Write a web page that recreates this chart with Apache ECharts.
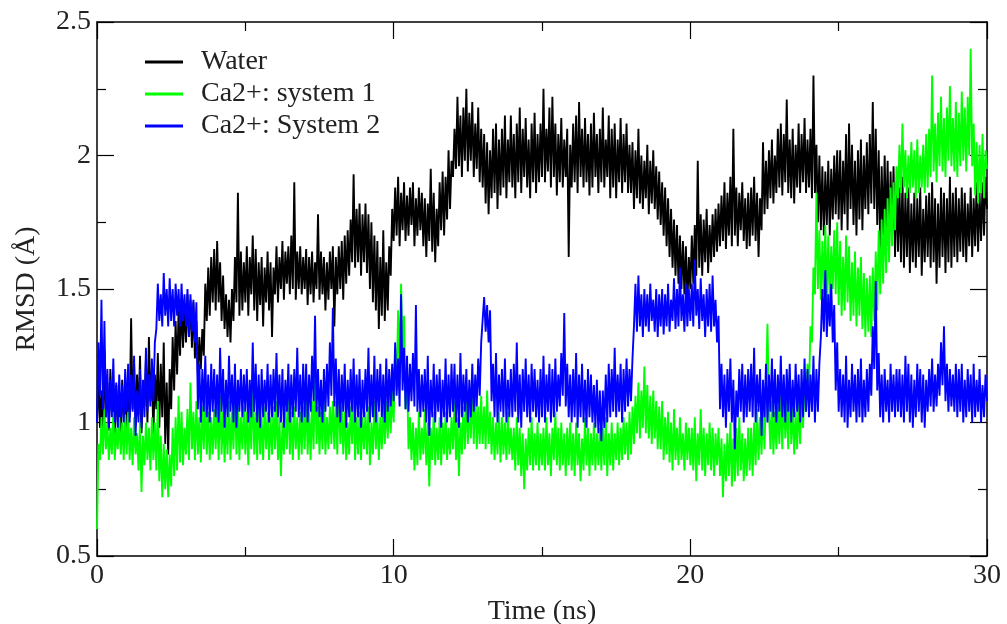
<!DOCTYPE html>
<html>
<head>
<meta charset="utf-8">
<script src="https://cdn.jsdelivr.net/npm/echarts@6/dist/echarts.min.js"></script>
<style>
  html, body { margin: 0; padding: 0; background: #fff; }
  #main { width: 1007px; height: 624px; }
</style>
</head>
<body>
<div id="main"></div>
<script>
// sample spacing in ns
var step = 0.05;

// RMSD values, one row per ns
var water = [
  1.00, 1.18, 0.98, 1.12, 0.96, 1.27, 1.02, 1.15, 0.97, 1.20, 1.04, 1.10, 0.95, 1.14, 1.00, 1.08, 0.94, 1.16, 1.02, 1.12,
  0.97, 1.15, 1.02, 1.39, 1.05, 1.22, 0.99, 1.18, 1.03, 1.25, 0.96, 1.12, 1.06, 1.24, 1.00, 1.32, 1.08, 1.20, 0.95, 1.18,
  1.05, 1.26, 0.98, 1.22, 1.02, 1.30, 0.92, 1.15, 0.88, 1.20, 1.05, 1.32, 1.12, 1.38, 1.18, 1.42, 1.25, 1.45, 1.28, 1.44,
  1.30, 1.48, 1.32, 1.46, 1.28, 1.45, 1.24, 1.38, 1.18, 1.32, 1.20, 1.35, 1.25, 1.52, 1.38, 1.58, 1.40, 1.62, 1.45, 1.65,
  1.42, 1.68, 1.45, 1.60, 1.38, 1.55, 1.35, 1.48, 1.32, 1.46, 1.30, 1.50, 1.38, 1.62, 1.45, 1.86, 1.40, 1.64, 1.42, 1.60,
  1.45, 1.66, 1.40, 1.62, 1.48, 1.70, 1.42, 1.65, 1.38, 1.60, 1.44, 1.62, 1.36, 1.58, 1.45, 1.64, 1.42, 1.60, 1.32, 1.58,
  1.48, 1.66, 1.45, 1.62, 1.50, 1.68, 1.46, 1.64, 1.52, 1.66, 1.48, 1.70, 1.50, 1.90, 1.46, 1.64, 1.50, 1.66, 1.48, 1.62,
  1.50, 1.65, 1.44, 1.62, 1.48, 1.64, 1.45, 1.60, 1.50, 1.78, 1.46, 1.64, 1.48, 1.62, 1.42, 1.60, 1.46, 1.64, 1.50, 1.66,
  1.36, 1.62, 1.48, 1.66, 1.50, 1.68, 1.46, 1.70, 1.52, 1.72, 1.55, 1.76, 1.60, 1.93, 1.58, 1.80, 1.60, 1.82, 1.55, 1.78,
  1.60, 1.82, 1.56, 1.78, 1.50, 1.75, 1.45, 1.70, 1.42, 1.68, 1.35, 1.62, 1.40, 1.72, 1.38, 1.60, 1.42, 1.66, 1.55, 1.80,
  1.68, 1.88, 1.70, 1.92, 1.66, 1.86, 1.72, 1.90, 1.68, 1.85, 1.70, 1.88, 1.74, 1.90, 1.66, 1.84, 1.70, 1.88, 1.72, 1.86,
  1.66, 1.84, 1.62, 1.82, 1.68, 1.95, 1.64, 1.86, 1.60, 1.80, 1.66, 1.90, 1.72, 1.94, 1.70, 1.92, 1.76, 2.02, 1.80, 1.98,
  1.92, 2.10, 1.95, 2.22, 1.96, 2.15, 1.92, 2.18, 1.98, 2.25, 1.94, 2.16, 1.98, 2.20, 1.92, 2.12, 1.95, 2.18, 1.90, 2.10,
  1.88, 2.08, 1.82, 2.05, 1.78, 2.02, 1.84, 2.10, 1.86, 2.12, 1.80, 2.06, 1.85, 2.10, 1.88, 2.15, 1.84, 2.06, 1.90, 2.15,
  1.88, 2.08, 1.84, 2.12, 1.90, 2.18, 1.86, 2.10, 1.92, 2.14, 1.88, 2.06, 1.84, 2.12, 1.90, 2.16, 1.86, 2.08, 1.90, 2.12,
  1.92, 2.25, 1.90, 2.10, 1.94, 2.18, 1.88, 2.22, 1.92, 2.12, 1.85, 2.08, 1.90, 2.14, 1.88, 2.06, 1.92, 2.10, 1.62, 2.04,
  1.88, 2.12, 1.90, 2.15, 1.86, 2.20, 1.92, 2.10, 1.88, 2.14, 1.90, 2.08, 1.85, 2.12, 1.88, 2.16, 1.92, 2.08, 1.86, 2.10,
  1.90, 2.18, 1.88, 2.06, 1.92, 2.15, 1.84, 2.10, 1.88, 2.12, 1.84, 2.06, 1.90, 2.14, 1.86, 2.08, 1.90, 2.12, 1.86, 2.04,
  1.86, 2.05, 1.80, 2.02, 1.84, 2.10, 1.82, 2.00, 1.80, 1.98, 1.84, 2.04, 1.78, 1.98, 1.82, 2.02, 1.80, 1.96, 1.76, 1.94,
  1.74, 1.90, 1.70, 1.88, 1.66, 1.84, 1.62, 1.80, 1.58, 1.76, 1.55, 1.74, 1.52, 1.70, 1.50, 1.68, 1.48, 1.66, 1.44, 1.62,
  1.50, 1.70, 1.52, 1.74, 1.55, 1.98, 1.58, 1.78, 1.55, 1.76, 1.60, 1.80, 1.56, 1.74, 1.60, 1.78, 1.62, 1.80, 1.64, 1.82,
  1.66, 1.85, 1.68, 1.90, 1.65, 1.86, 1.70, 1.92, 1.66, 2.10, 1.70, 1.88, 1.66, 1.86, 1.72, 1.90, 1.68, 1.84, 1.65, 1.86,
  1.66, 1.88, 1.70, 1.92, 1.68, 1.86, 1.62, 1.84, 1.72, 2.05, 1.78, 1.98, 1.80, 2.02, 1.84, 2.06, 1.82, 2.00, 1.86, 2.10,
  1.88, 2.12, 1.85, 2.08, 1.90, 2.21, 1.86, 2.06, 1.84, 2.10, 1.82, 2.04, 1.88, 2.12, 1.86, 2.08, 1.90, 2.14, 1.86, 2.06,
  1.88, 2.10, 1.84, 2.30, 1.86, 2.04, 1.75, 2.00, 1.72, 1.96, 1.70, 1.94, 1.74, 1.98, 1.70, 1.95, 1.76, 2.00, 1.78, 2.02,
  1.76, 2.02, 1.72, 1.98, 1.78, 2.08, 1.72, 2.12, 1.80, 2.04, 1.74, 1.98, 1.70, 2.02, 1.76, 2.06, 1.72, 2.00, 1.80, 2.05,
  1.78, 2.08, 1.82, 2.20, 1.80, 2.10, 1.74, 2.02, 1.65, 1.96, 1.70, 2.00, 1.72, 1.98, 1.66, 1.94, 1.70, 1.96, 1.62, 1.90,
  1.64, 1.88, 1.60, 1.92, 1.58, 1.86, 1.62, 1.88, 1.56, 1.82, 1.60, 1.86, 1.58, 1.84, 1.62, 1.88, 1.55, 1.80, 1.60, 1.85,
  1.62, 1.86, 1.58, 1.90, 1.60, 1.84, 1.52, 1.82, 1.58, 1.88, 1.62, 1.86, 1.56, 1.84, 1.60, 1.92, 1.58, 1.86, 1.62, 1.88,
  1.60, 1.84, 1.64, 1.88, 1.62, 1.86, 1.60, 1.82, 1.66, 1.88, 1.62, 1.84, 1.66, 1.90, 1.64, 1.86, 1.68, 1.90, 1.70, 1.92,
  1.80
];

var system1 = [
  0.60, 0.92, 0.86, 1.02, 0.88, 1.05, 0.90, 1.00, 0.86, 0.98, 0.88, 1.04, 0.86, 0.98, 0.90, 1.02, 0.88, 1.00, 0.86, 1.03,
  0.88, 1.04, 0.86, 0.98, 0.84, 1.02, 0.88, 0.96, 0.82, 1.00, 0.74, 0.95, 0.84, 1.00, 0.86, 0.98, 0.82, 1.02, 0.86, 1.00,
  0.82, 1.08, 0.78, 0.95, 0.72, 0.92, 0.75, 0.90, 0.72, 0.88, 0.76, 0.98, 0.80, 1.02, 0.82, 1.10, 0.85, 1.04, 0.84, 0.98,
  0.88, 1.05, 0.86, 1.15, 0.90, 1.04, 0.86, 1.08, 0.88, 1.02, 0.85, 1.06, 0.90, 1.10, 0.88, 1.04, 0.86, 1.02, 0.88, 1.05,
  0.90, 1.06, 0.86, 1.10, 0.88, 1.04, 0.85, 1.02, 0.88, 1.08, 0.86, 1.04, 0.90, 1.12, 0.88, 1.06, 0.86, 1.02, 0.90, 1.06,
  0.88, 1.04, 0.84, 1.06, 0.90, 1.15, 0.88, 1.04, 0.86, 1.08, 0.88, 1.02, 0.86, 1.06, 0.90, 1.04, 0.86, 1.02, 0.88, 1.06,
  0.90, 1.08, 0.86, 1.02, 0.80, 1.00, 0.88, 1.05, 0.90, 1.12, 0.88, 1.04, 0.86, 1.06, 0.90, 1.02, 0.86, 1.04, 0.88, 1.06,
  0.90, 1.10, 0.88, 1.04, 0.86, 1.08, 0.90, 1.20, 0.92, 1.06, 0.88, 1.04, 0.90, 1.08, 0.88, 1.02, 0.90, 1.06, 0.92, 1.08,
  0.90, 1.08, 0.88, 1.14, 0.92, 1.06, 0.88, 1.04, 0.86, 1.00, 0.88, 1.06, 0.92, 1.10, 0.86, 1.02, 0.88, 1.04, 0.86, 1.02,
  0.90, 1.04, 0.88, 1.06, 0.84, 1.00, 0.88, 1.08, 0.90, 1.04, 0.86, 1.02, 0.90, 1.06, 0.92, 1.08, 0.94, 1.10, 0.96, 1.12,
  1.00, 1.28, 1.12, 1.42, 1.20, 1.52, 1.25, 1.40, 1.05, 1.20, 0.90, 1.02, 0.86, 1.00, 0.82, 0.98, 0.84, 1.04, 0.86, 0.98,
  0.88, 1.05, 0.84, 1.00, 0.76, 0.98, 0.86, 1.04, 0.84, 0.98, 0.86, 1.02, 0.84, 1.00, 0.88, 1.04, 0.86, 0.98, 0.88, 1.02,
  0.90, 1.08, 0.86, 1.02, 0.80, 1.00, 0.88, 1.06, 0.90, 1.10, 0.92, 1.08, 0.94, 1.12, 0.92, 1.14, 0.90, 1.06, 0.92, 1.10,
  0.92, 1.06, 0.90, 1.12, 0.92, 1.04, 0.88, 1.02, 0.86, 1.00, 0.88, 1.04, 0.85, 1.02, 0.88, 1.00, 0.86, 1.04, 0.88, 0.98,
  0.86, 0.98, 0.82, 1.02, 0.84, 0.98, 0.80, 0.96, 0.75, 0.94, 0.82, 0.98, 0.84, 1.02, 0.82, 0.96, 0.84, 1.00, 0.82, 0.96,
  0.84, 0.98, 0.82, 1.02, 0.84, 0.96, 0.80, 0.98, 0.86, 1.04, 0.84, 0.98, 0.82, 1.00, 0.84, 0.96, 0.80, 0.98, 0.84, 1.00,
  0.82, 0.96, 0.80, 1.00, 0.84, 0.96, 0.78, 0.94, 0.82, 1.02, 0.84, 0.98, 0.80, 0.96, 0.84, 1.00, 0.82, 0.96, 0.84, 0.98,
  0.82, 0.98, 0.84, 1.02, 0.80, 0.96, 0.84, 1.00, 0.82, 0.96, 0.86, 1.00, 0.84, 0.98, 0.86, 1.02, 0.88, 1.00, 0.86, 1.04,
  0.88, 1.06, 0.92, 1.10, 0.96, 1.15, 0.94, 1.12, 0.98, 1.21, 0.96, 1.14, 0.94, 1.10, 0.92, 1.12, 0.94, 1.08, 0.90, 1.06,
  0.90, 1.08, 0.86, 1.02, 0.88, 1.04, 0.85, 1.00, 0.82, 1.05, 0.86, 0.98, 0.84, 1.02, 0.86, 0.96, 0.82, 1.00, 0.86, 0.98,
  0.84, 0.98, 0.82, 1.02, 0.78, 0.96, 0.84, 1.05, 0.82, 0.98, 0.80, 0.96, 0.84, 1.00, 0.82, 0.98, 0.80, 0.96, 0.84, 0.98,
  0.80, 0.94, 0.72, 0.92, 0.78, 0.96, 0.80, 1.00, 0.76, 0.94, 0.78, 0.98, 0.80, 1.02, 0.82, 0.96, 0.78, 0.94, 0.80, 0.98,
  0.82, 0.98, 0.80, 1.00, 0.84, 1.05, 0.86, 1.02, 0.88, 1.06, 0.90, 1.12, 1.37, 1.04, 0.90, 1.08, 0.88, 1.04, 0.90, 1.06,
  0.92, 1.10, 0.90, 1.12, 0.94, 1.08, 0.90, 1.18, 0.92, 1.06, 0.88, 1.04, 0.90, 1.08, 0.92, 1.10, 0.98, 1.16, 1.04, 1.22,
  1.12, 1.36, 1.30, 1.58, 1.48, 1.86, 1.50, 1.72, 1.46, 1.68, 1.48, 1.74, 1.45, 1.70, 1.46, 1.66, 1.50, 1.72, 1.48, 1.75,
  1.44, 1.68, 1.40, 1.62, 1.42, 1.70, 1.45, 1.66, 1.38, 1.60, 1.40, 1.64, 1.36, 1.58, 1.40, 1.62, 1.35, 1.56, 1.32, 1.54,
  1.34, 1.55, 1.32, 1.58, 1.38, 1.64, 1.42, 1.72, 1.48, 1.76, 1.52, 1.80, 1.56, 1.84, 1.60, 1.88, 1.66, 1.90, 1.72, 1.96,
  1.84, 2.04, 1.86, 2.12, 1.88, 2.02, 1.84, 2.00, 1.86, 2.05, 1.88, 2.02, 1.84, 2.06, 1.86, 2.00, 1.88, 2.04, 1.86, 2.08,
  1.88, 2.10, 1.92, 2.30, 1.94, 2.12, 1.90, 2.16, 1.96, 2.22, 1.94, 2.14, 1.92, 2.18, 1.98, 2.26, 1.96, 2.14, 1.94, 2.20,
  1.92, 2.16, 1.96, 2.24, 1.98, 2.18, 1.94, 2.22, 2.00, 2.40, 1.96, 2.12, 1.85, 2.05, 1.82, 2.04, 1.86, 2.08, 1.84, 2.02,
  1.95
];

var system2 = [
  1.00, 1.30, 1.10, 1.46, 1.05, 1.38, 1.02, 1.20, 0.98, 1.16, 1.02, 1.24, 1.00, 1.15, 0.98, 1.18, 1.02, 1.14, 1.00, 1.20,
  1.04, 1.22, 1.00, 1.18, 1.04, 1.25, 0.95, 1.12, 1.00, 1.20, 0.98, 1.16, 1.02, 1.28, 1.04, 1.18, 1.06, 1.24, 1.08, 1.30,
  1.35, 1.52, 1.38, 1.48, 1.36, 1.56, 1.40, 1.50, 1.36, 1.54, 1.38, 1.50, 1.36, 1.52, 1.40, 1.50, 1.36, 1.52, 1.38, 1.48,
  1.36, 1.50, 1.32, 1.48, 1.34, 1.46, 1.30, 1.45, 1.05, 1.22, 1.00, 1.20, 1.04, 1.25, 1.02, 1.18, 1.00, 1.22, 1.04, 1.20,
  1.02, 1.18, 1.00, 1.28, 1.04, 1.20, 0.98, 1.16, 1.02, 1.25, 1.04, 1.18, 1.00, 1.22, 0.98, 1.16, 1.04, 1.20, 1.02, 1.18,
  1.04, 1.20, 1.00, 1.16, 1.02, 1.30, 1.04, 1.22, 1.00, 1.18, 0.98, 1.20, 1.02, 1.16, 1.04, 1.22, 1.00, 1.18, 1.02, 1.20,
  1.04, 1.26, 1.02, 1.18, 1.00, 1.20, 0.98, 1.16, 1.04, 1.22, 1.00, 1.18, 1.02, 1.20, 1.04, 1.28, 1.02, 1.18, 1.00, 1.22,
  1.02, 1.22, 1.00, 1.18, 1.04, 1.25, 1.08, 1.40, 1.04, 1.20, 1.02, 1.16, 1.00, 1.20, 1.04, 1.22, 1.06, 1.30, 1.10, 1.43,
  1.06, 1.24, 1.02, 1.20, 1.00, 1.18, 1.04, 1.22, 0.98, 1.16, 1.02, 1.20, 1.04, 1.24, 1.00, 1.18, 1.02, 1.20, 0.98, 1.16,
  1.02, 1.20, 1.04, 1.28, 1.00, 1.18, 1.02, 1.25, 1.00, 1.20, 1.04, 1.22, 1.02, 1.18, 1.00, 1.24, 1.04, 1.20, 1.06, 1.22,
  1.08, 1.30, 1.10, 1.24, 1.06, 1.48, 1.12, 1.28, 1.05, 1.25, 1.04, 1.22, 1.08, 1.26, 1.06, 1.44, 1.04, 1.20, 1.02, 1.18,
  1.04, 1.20, 1.00, 1.25, 0.95, 1.16, 1.02, 1.22, 1.00, 1.18, 1.04, 1.20, 0.98, 1.16, 1.02, 1.24, 1.00, 1.18, 1.02, 1.22,
  1.04, 1.22, 1.00, 1.18, 0.98, 1.26, 1.02, 1.18, 1.04, 1.20, 1.00, 1.16, 1.02, 1.22, 1.04, 1.18, 1.06, 1.24, 1.10, 1.30,
  1.30, 1.47, 1.34, 1.44, 1.30, 1.42, 1.08, 1.22, 1.02, 1.26, 1.00, 1.18, 1.04, 1.20, 1.02, 1.24, 1.00, 1.16, 1.02, 1.20,
  1.02, 1.22, 1.04, 1.30, 1.00, 1.18, 0.98, 1.20, 1.04, 1.24, 1.02, 1.18, 1.00, 1.22, 1.04, 1.20, 1.02, 1.16, 1.00, 1.20,
  1.02, 1.25, 1.00, 1.18, 1.04, 1.22, 1.00, 1.20, 1.02, 1.24, 1.04, 1.18, 1.06, 1.26, 1.10, 1.41, 1.06, 1.22, 1.02, 1.18,
  1.00, 1.20, 1.02, 1.26, 0.98, 1.18, 1.02, 1.22, 1.00, 1.16, 0.98, 1.20, 1.02, 1.18, 1.00, 1.14, 0.98, 1.16, 0.96, 1.12,
  0.93, 1.12, 0.98, 1.18, 1.00, 1.22, 1.02, 1.20, 1.04, 1.28, 1.02, 1.18, 1.04, 1.22, 1.00, 1.20, 1.04, 1.24, 1.06, 1.20,
  1.08, 1.24, 1.36, 1.52, 1.34, 1.55, 1.36, 1.48, 1.32, 1.50, 1.36, 1.48, 1.34, 1.52, 1.38, 1.46, 1.34, 1.50, 1.32, 1.48,
  1.36, 1.50, 1.33, 1.48, 1.36, 1.52, 1.34, 1.46, 1.38, 1.54, 1.35, 1.50, 1.36, 1.58, 1.38, 1.48, 1.34, 1.52, 1.36, 1.50,
  1.38, 1.52, 1.36, 1.61, 1.40, 1.50, 1.35, 1.54, 1.38, 1.48, 1.32, 1.50, 1.36, 1.52, 1.34, 1.55, 1.36, 1.46, 1.30, 1.40,
  1.05, 1.22, 1.02, 1.18, 0.98, 1.20, 1.04, 1.24, 1.00, 1.16, 0.90, 1.12, 1.02, 1.20, 1.04, 1.22, 1.00, 1.18, 1.02, 1.20,
  1.04, 1.22, 1.02, 1.28, 1.00, 1.18, 1.04, 1.20, 0.95, 1.16, 1.02, 1.22, 1.00, 1.18, 1.04, 1.24, 1.02, 1.20, 1.00, 1.18,
  1.04, 1.25, 1.02, 1.18, 1.00, 1.20, 1.04, 1.22, 1.00, 1.16, 1.02, 1.22, 1.04, 1.18, 1.00, 1.20, 1.02, 1.24, 1.04, 1.20,
  1.02, 1.18, 1.04, 1.25, 1.00, 1.20, 1.04, 1.22, 1.32, 1.50, 1.34, 1.57, 1.32, 1.48, 1.36, 1.52, 1.30, 1.44, 1.12, 1.30,
  1.04, 1.20, 1.02, 1.18, 1.00, 1.25, 0.98, 1.16, 1.02, 1.22, 1.04, 1.18, 1.00, 1.20, 1.02, 1.24, 1.00, 1.16, 1.02, 1.20,
  1.04, 1.22, 1.10, 1.36, 1.20, 1.53, 1.12, 1.26, 1.02, 1.18, 1.00, 1.20, 1.04, 1.16, 1.00, 1.22, 1.04, 1.18, 1.02, 1.20,
  1.04, 1.20, 1.02, 1.18, 1.00, 1.25, 1.04, 1.22, 1.00, 1.18, 0.98, 1.16, 1.02, 1.22, 1.04, 1.20, 1.00, 1.18, 0.98, 1.16,
  1.04, 1.20, 1.06, 1.24, 1.04, 1.18, 1.06, 1.22, 1.10, 1.30, 1.14, 1.36, 1.08, 1.22, 1.04, 1.20, 1.06, 1.18, 1.04, 1.22,
  1.02, 1.20, 1.04, 1.22, 1.00, 1.16, 1.02, 1.20, 1.04, 1.18, 1.00, 1.22, 1.02, 1.16, 1.04, 1.20, 1.00, 1.14, 1.02, 1.18,
  1.08
];

var seriesNames = ['Water', 'Ca2+: system 1', 'Ca2+: System 2'];
var seriesColors = ['#000000', '#00ff00', '#0000ff'];

function pairs(arr) {
  var out = [];
  for (var i = 0; i < arr.length; i++) {
    out.push([+(i * step).toFixed(2), arr[i]]);
  }
  return out;
}

var font = 'Liberation Serif';
var tickStyle = { show: true, inside: true, length: 17, lineStyle: { color: '#000', width: 1.2 } };
var minorStyle = { show: true, splitNumber: 2, length: 9, lineStyle: { color: '#000', width: 1.2 } };
var lineAxis = { show: true, onZero: false, lineStyle: { color: '#000', width: 1.5 } };

var chart = echarts.init(document.getElementById('main'));
chart.setOption({
  animation: false,
  backgroundColor: '#fff',
  textStyle: { fontFamily: font },
  grid: { left: 97, right: 20, top: 22, bottom: 68, outerBoundsMode: 'none', containLabel: false },
  legend: {
    orient: 'vertical',
    left: 140,
    top: 43,
    itemWidth: 38,
    itemHeight: 3,
    itemGap: 4,
    icon: 'rect',
    data: seriesNames,
    textStyle: { fontFamily: font, fontSize: 28, color: '#222', lineHeight: 28, padding: [0, 0, 0, 13] }
  },
  xAxis: [
    {
      type: 'value',
      min: 0,
      max: 30,
      interval: 10,
      name: 'Time (ns)',
      nameLocation: 'middle',
      nameGap: 42,
      nameTextStyle: { fontFamily: font, fontSize: 28, color: '#222' },
      axisLine: lineAxis,
      axisTick: tickStyle,
      minorTick: minorStyle,
      splitLine: { show: false },
      axisLabel: { fontFamily: font, fontSize: 28, color: '#222', margin: 6 }
    },
    {
      type: 'value',
      position: 'top',
      min: 0,
      max: 30,
      interval: 10,
      axisLine: lineAxis,
      axisTick: tickStyle,
      minorTick: minorStyle,
      splitLine: { show: false },
      axisLabel: { show: false }
    }
  ],
  yAxis: [
    {
      type: 'value',
      min: 0.5,
      max: 2.5,
      interval: 0.5,
      name: 'RMSD (Å)',
      nameLocation: 'middle',
      nameGap: 56,
      nameTextStyle: { fontFamily: font, fontSize: 28, color: '#222' },
      axisLine: lineAxis,
      axisTick: tickStyle,
      minorTick: minorStyle,
      splitLine: { show: false },
      axisLabel: { fontFamily: font, fontSize: 28, color: '#222', margin: 6 }
    },
    {
      type: 'value',
      position: 'right',
      min: 0.5,
      max: 2.5,
      interval: 0.5,
      axisLine: lineAxis,
      axisTick: tickStyle,
      minorTick: minorStyle,
      splitLine: { show: false },
      axisLabel: { show: false }
    }
  ],
  series: [
    {
      name: seriesNames[0],
      type: 'line',
      data: pairs(water),
      showSymbol: false,
      color: seriesColors[0],
      lineStyle: { width: 1.9 }
    },
    {
      name: seriesNames[1],
      type: 'line',
      data: pairs(system1),
      showSymbol: false,
      color: seriesColors[1],
      lineStyle: { width: 1.9 }
    },
    {
      name: seriesNames[2],
      type: 'line',
      data: pairs(system2),
      showSymbol: false,
      color: seriesColors[2],
      lineStyle: { width: 1.9 }
    }
  ]
});
</script>
</body>
</html>
